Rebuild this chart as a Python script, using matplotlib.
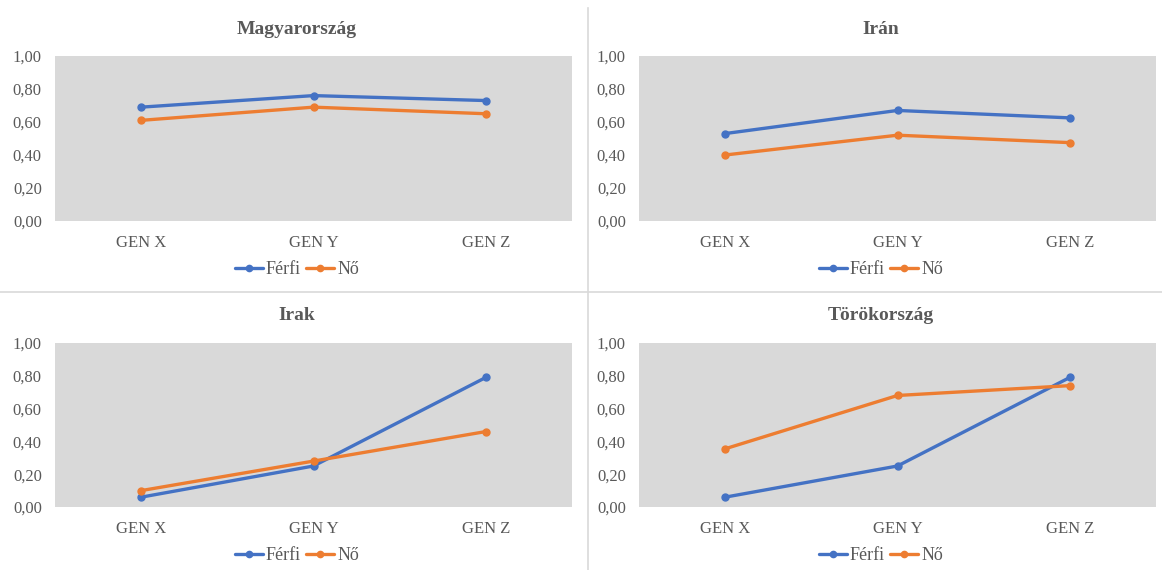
import matplotlib
matplotlib.use("Agg")
import matplotlib.pyplot as plt
from matplotlib.lines import Line2D

plt.rcParams['font.family'] = ['Liberation Serif', 'DejaVu Serif']

generations = ["GEN X", "GEN Y", "GEN Z"]
series_names = ["Férfi", "Nő"]
yticks = [0.0, 0.2, 0.4, 0.6, 0.8, 1.0]

countries = ["Magyarország", "Irán", "Irak", "Törökország"]
ferfi_magyar = [0.69, 0.76, 0.73]
no_magyar = [0.61, 0.69, 0.65]
ferfi_iran = [0.53, 0.67, 0.625]
no_iran = [0.40, 0.52, 0.475]
ferfi_irak = [0.06, 0.25, 0.79]
no_irak = [0.10, 0.28, 0.46]
ferfi_torok = [0.06, 0.25, 0.79]
no_torok = [0.355, 0.68, 0.74]

ferfi = [ferfi_magyar, ferfi_iran, ferfi_irak, ferfi_torok]
no = [no_magyar, no_iran, no_irak, no_torok]

BLUE = "#4472C4"
ORANGE = "#ED7D31"
TEXT = "#595959"
PLOT_BG = "#D9D9D9"

W, H = 1162, 570
fig = plt.figure(figsize=(W / 100, H / 100), dpi=100)
fig.patch.set_facecolor("white")

# plot-area boxes in pixels: left, top, right, bottom
boxes = [
    (55, 56, 572, 221),
    (639, 56, 1156, 221),
    (55, 343, 572, 507),
    (639, 343, 1156, 507),
]
panel_cx = [297, 881, 297, 881]
title_y = [29, 29, 316, 316]
legend_y = [270, 270, 556, 556]

for i, (l, t, r, b) in enumerate(boxes):
    ax = fig.add_axes([l / W, 1 - b / H, (r - l) / W, (b - t) / H])
    ax.set_facecolor(PLOT_BG)
    x = range(len(generations))
    ax.plot(x, ferfi[i], color=BLUE, lw=2.4, marker="o", ms=5, label=series_names[0],
            solid_capstyle="round")
    ax.plot(x, no[i], color=ORANGE, lw=2.4, marker="o", ms=5, label=series_names[1],
            solid_capstyle="round")
    ax.set_xlim(-0.5, 2.5)
    ax.set_ylim(0, 1.0)
    ax.set_yticks(yticks)
    ax.set_yticklabels([f"{v:.2f}".replace(".", ",") for v in yticks])
    ax.set_xticks(list(x))
    ax.set_xticklabels(generations)
    ax.tick_params(axis="both", length=0, colors=TEXT, labelsize=12)
    ax.tick_params(axis="y", pad=9.5)
    ax.tick_params(axis="x", pad=10)
    for s in ax.spines.values():
        s.set_visible(False)

    cx = panel_cx[i]
    fig.text(cx / W, 1 - title_y[i] / H, countries[i], ha="center", va="center",
             fontsize=14, fontweight="bold", color=TEXT)
    fig.legend(handles=ax.get_lines(), loc="center",
               bbox_to_anchor=(cx / W, 1 - legend_y[i] / H), ncol=2,
               frameon=False, fontsize=13, handlelength=1.55, handletextpad=0.15,
               columnspacing=0.3, labelcolor=TEXT, markerscale=0.9,
               borderpad=0.2)

# panel dividers
fig.add_artist(Line2D([588 / W, 588 / W], [0, 1 - 8 / H], transform=fig.transFigure,
                      color="#D9D9D9", lw=1.2))
fig.add_artist(Line2D([0, 1], [1 - 292 / H, 1 - 292 / H], transform=fig.transFigure,
                      color="#D9D9D9", lw=1.2))

fig.savefig("out.png", dpi=100, facecolor="white")
